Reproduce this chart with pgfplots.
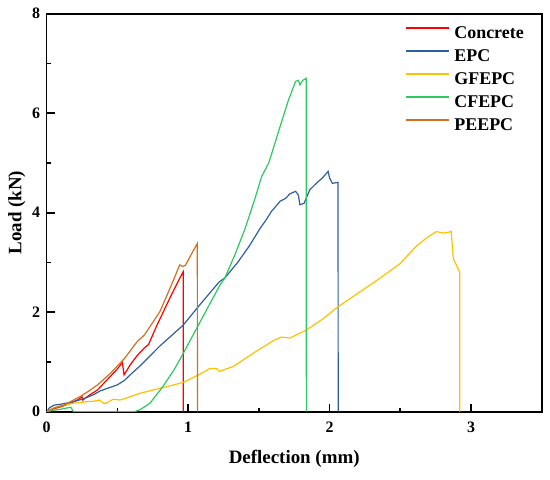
\documentclass[border=0pt]{standalone}
\usepackage{fontspec}
\setmainfont{Liberation Serif}
\usepackage{pgfplots}
\pgfplotsset{compat=1.18}
\definecolor{cRed}{RGB}{255,0,0}
\definecolor{cBlue}{RGB}{46,96,158}
\definecolor{cYel}{RGB}{255,192,0}
\definecolor{cGreen}{RGB}{45,200,95}
\definecolor{cBrown}{RGB}{210,112,30}
\begin{document}
\begin{tikzpicture}
\useasboundingbox (-46.7bp,-68.3bp) rectangle (503.3bp,411.7bp);
\begin{axis}[
 scale only axis, width=495bp, height=398bp,
 xmin=0, xmax=3.5, ymin=0, ymax=8,
 xtick={0,1,2,3}, ytick={0,2,4,6,8},
 minor xtick={0.5,1.5,2.5}, minor ytick={1,3,5,7},
 tick align=inside, xtick pos=bottom, ytick pos=left,
 major tick length=8bp, minor tick length=4bp,
 axis line style={line width=1.6bp},
 every tick/.style={black, line width=1.6bp},
 /pgf/number format/assume math mode=true,
 tick label style={font=\fontsize{16}{16}\selectfont\bfseries},
 xticklabel style={yshift=-7bp},
 yticklabel style={xshift=-3bp},
 xlabel={Deflection (mm)}, ylabel={Load (kN)},
 label style={font=\fontsize{19}{19}\selectfont\bfseries},
 xlabel style={yshift=-10bp},
 legend style={at={(rel axis cs:0.7238,0.971)}, anchor=north west, draw=none, fill=none,
   font=\fontsize{18}{18}\selectfont\bfseries, inner sep=0pt, row sep=6bp, column sep=5bp,
   nodes={inner sep=0pt, text height=13bp, text depth=4bp}, cells={anchor=west}},
 legend image code/.code={\draw[#1] (0bp,6bp) -- (43bp,6bp);},
 every axis plot/.append style={line width=1.2bp},
]
\addplot[cRed] coordinates {(0,0) (0.05,0.06) (0.1,0.1) (0.15,0.15) (0.19,0.2) (0.217,0.235) (0.25,0.30) (0.255,0.235) (0.3,0.33) (0.36,0.44) (0.45,0.71) (0.5,0.86) (0.535,0.99) (0.547,0.74) (0.59,0.94) (0.64,1.13) (0.69,1.28) (0.72,1.35) (0.775,1.71) (0.87,2.28) (0.94,2.68) (0.965,2.81) (0.966,0)};
\addlegendentry{Concrete}
\addplot[cBlue] coordinates {(0,0) (0.02,0.08) (0.05,0.13) (0.1,0.15) (0.19,0.2) (0.26,0.26) (0.33,0.34) (0.38,0.42) (0.43,0.47) (0.5,0.54) (0.55,0.63) (0.59,0.74) (0.66,0.92) (0.8,1.32) (0.965,1.74) (1.08,2.14) (1.22,2.61) (1.26,2.69) (1.35,3.0) (1.43,3.32) (1.51,3.69) (1.55,3.85) (1.59,4.03) (1.60,4.06) (1.65,4.23) (1.69,4.29) (1.72,4.38) (1.76,4.43) (1.78,4.35) (1.79,4.16) (1.82,4.19) (1.86,4.46) (1.91,4.60) (1.95,4.70) (1.99,4.83) (2.0,4.70) (2.02,4.59) (2.06,4.61) (2.061,0)};
\addlegendentry{EPC}
\addplot[cYel] coordinates {(0,0) (0.05,0.08) (0.1,0.12) (0.19,0.17) (0.28,0.2) (0.33,0.21) (0.375,0.235) (0.40,0.17) (0.42,0.17) (0.47,0.25) (0.52,0.235) (0.6,0.31) (0.66,0.37) (0.8,0.47) (0.94,0.57) (0.975,0.60) (1.08,0.75) (1.155,0.87) (1.2,0.87) (1.22,0.81) (1.32,0.91) (1.495,1.24) (1.61,1.44) (1.66,1.50) (1.72,1.48) (1.835,1.64) (1.95,1.86) (2.06,2.11) (2.2,2.38) (2.355,2.68) (2.5,2.98) (2.61,3.32) (2.69,3.50) (2.755,3.62) (2.81,3.59) (2.86,3.62) (2.875,3.08) (2.896,2.95) (2.92,2.81) (2.921,0)};
\addlegendentry{GFEPC}
\addplot[cGreen] coordinates {(0,0) (0.05,0.03) (0.1,0.05) (0.17,0.09) (0.19,0) (0.62,0) (0.66,0.04) (0.73,0.17) (0.82,0.50) (0.9,0.84) (0.965,1.17) (1.08,1.78) (1.22,2.52) (1.26,2.69) (1.33,3.15) (1.40,3.66) (1.47,4.26) (1.52,4.73) (1.57,5.0) (1.65,5.73) (1.71,6.27) (1.76,6.64) (1.78,6.66) (1.79,6.57) (1.81,6.66) (1.835,6.70) (1.836,0)};
\addlegendentry{CFEPC}
\addplot[cBrown] coordinates {(0,0) (0.05,0.07) (0.12,0.13) (0.18,0.22) (0.24,0.31) (0.3,0.42) (0.36,0.54) (0.45,0.77) (0.55,1.07) (0.64,1.41) (0.69,1.54) (0.73,1.71) (0.80,2.01) (0.846,2.31) (0.9,2.67) (0.94,2.95) (0.96,2.92) (0.98,2.94) (1.02,3.15) (1.065,3.38) (1.066,0)};
\addlegendentry{PEEPC}
\end{axis}
\end{tikzpicture}
\end{document}
